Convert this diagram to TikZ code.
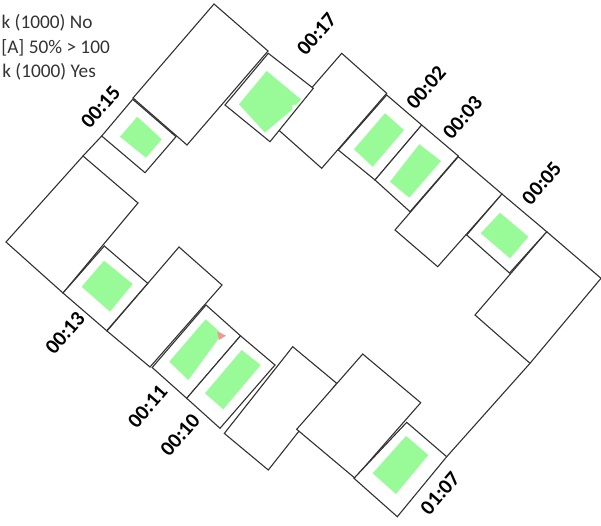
\documentclass[tikz,border=0pt]{standalone}
\usepackage{fontspec}
\setmainfont{Carlito}
\definecolor{gfill}{RGB}{152,251,152}
\definecolor{rfill}{RGB}{244,150,150}
\definecolor{edge}{RGB}{50,50,50}
\begin{document}
\begin{tikzpicture}[x=1pt,y=-1pt,
  box/.style={draw=edge,line width=1.1pt,fill=white,line join=miter},
  seat/.style={fill=gfill},
  lbl/.style={font=\bfseries\fontsize{21}{24}\selectfont,rotate=49,inner sep=0pt},
  legend/.style={font=\fontsize{19.3}{22}\selectfont,text=black!80,anchor=base east,inner sep=0pt}]
\useasboundingbox (0,0) rectangle (601,525);
\clip (0,0) rectangle (601,525);
% large tables
\draw[box] (214,4) -- (268,51) -- (187,145) -- (133,98) -- cycle;
\draw[box] (341.7,53.3) -- (386.7,93.3) -- (321.7,168.3) -- (276.7,128.3) -- cycle;
\draw[box] (458.3,156.7) -- (502,194) -- (437.7,266.7) -- (395,230) -- cycle;
\draw[box] (546.7,231.7) -- (601,278.3) -- (530,363.3) -- (475,315) -- cycle;
\draw[box] (83,156) -- (138,203) -- (63,293) -- (6,242) -- cycle;
\draw[box] (179,247) -- (222,285) -- (150,367) -- (107,331) -- cycle;
\draw[box] (292.7,346.7) -- (336.7,383.3) -- (268.3,470) -- (224.3,433.4) -- cycle;
\draw[box] (362.7,354) -- (420.7,402.7) -- (354.7,478) -- (296.7,429.3) -- cycle;
% small boxes
\draw[box] (132.7,99.3) -- (176,136.7) -- (145,172.7) -- (101.7,136) -- cycle;
\draw[box] (268.3,53.3) -- (313.3,88.3) -- (270,141.7) -- (225,105) -- cycle;
\draw[box] (386.7,95) -- (421.7,125) -- (375,180) -- (338.3,150) -- cycle;
\draw[box] (421.7,125) -- (458.3,156) -- (410,211.7) -- (375,180) -- cycle;
\draw[box] (502,194) -- (546.7,231.7) -- (509.5,273) -- (466.7,235) -- cycle;
\draw[box] (104.3,246) -- (147.7,283.3) -- (106.7,330.7) -- (63,293) -- cycle;
\draw[box] (206,305) -- (240.5,335.8) -- (186.7,398.3) -- (152.2,367.5) -- cycle;
\draw[box] (240.5,335.8) -- (275,365) -- (220,428.3) -- (186.7,398.3) -- cycle;
\draw[box] (406.7,422.3) -- (446.7,456.7) -- (397.3,516.7) -- (354,478.3) -- cycle;
% outer connecting lines
\draw[box] (83,156) -- (101.7,136);
\draw[box] (446.7,456.7) -- (530,363.3);
% green fills
\fill[seat] (120,136.7) -- (137.3,116.7) -- (161.7,139.3) -- (146,157.7) -- cycle;
\fill[seat] (266.7,71) -- (301,99.5) -- (296.5,104.5) -- (292.3,105) -- (292.3,109.5) -- (265,132.5) -- (239,104.3) -- cycle;
\fill[seat] (354,149.3) -- (385,113.3) -- (404,130) -- (372.7,166.7) -- cycle;
\fill[seat] (390,181.7) -- (419.3,144.3) -- (441,161) -- (409.3,197.7) -- cycle;
\fill[seat] (480.7,233.3) -- (500,212.7) -- (528.3,236.7) -- (510,258.3) -- cycle;
\fill[seat] (81.7,286.7) -- (104,260.7) -- (132.7,284) -- (110,311.7) -- cycle;
\fill[seat] (169.3,361.7) -- (205.7,319.3) -- (222,334) -- (188.3,380) -- cycle;
\fill[rfill] (217.3,331.5) -- (226,335.7) -- (219,340) -- cycle;
\fill[seat] (205,393.3) -- (241.7,350) -- (260.7,365) -- (223.3,409.3) -- cycle;
\fill[seat] (372.7,473.3) -- (406,436) -- (428.3,455) -- (396,494) -- cycle;
% labels
\node[lbl] (l15) at (100.5,107) {00:15};
\node[lbl] (l17) at (316.5,34) {00:17};
\node[lbl] (l02) at (426,87.5) {00:02};
\node[lbl] (l03) at (462.5,117.5) {00:03};
\node[lbl] (l05) at (541.7,183.3) {00:05};
\node[lbl] (l13) at (65,333) {00:13};
\node[lbl] (l11) at (147.5,406.7) {00:11};
\node[lbl] (l10) at (180,435) {00:10};
\node[lbl] (l07) at (440,493.3) {01:07};
% legend
\node[legend] (lg1) at (92.7,28.3) {k (1000) No};
\node[legend] (lg2) at (110,53) {[A] 50\% > 100};
\node[legend] (lg3) at (96,77.5) {k (1000) Yes};
\end{tikzpicture}
\end{document}
